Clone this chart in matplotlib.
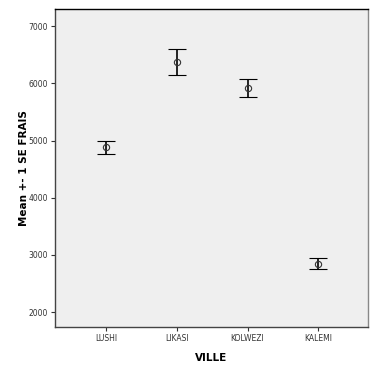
import numpy as np
import matplotlib.pyplot as plt

villes = ['LUSHI', 'LIKASI', 'KOLWEZI', 'KALEMI']
moyennes = [4880, 6370, 5915, 2845]
erreurs = [117, 230, 160, 97]

fig = plt.figure(figsize=(3.76, 3.76), dpi=100)
ax = fig.add_axes([55 / 376, 1 - 327 / 376, 313 / 376, 318 / 376])
ax.set_facecolor('#efefef')

x = np.arange(len(villes))
ax.errorbar(x, moyennes, yerr=erreurs, fmt='o', mfc='none', mec='#333333',
            ms=4.5, mew=0.8, ecolor='black', elinewidth=1.2, capsize=6.5,
            capthick=1.2)

ax.set_xlim(-0.72, 3.70)
ax.set_ylim(1740, 7300)
ax.set_xticks(x)
ax.set_xticklabels(villes)
ax.set_yticks([2000, 3000, 4000, 5000, 6000, 7000])
ax.tick_params(labelsize=5.5, length=3, width=0.8, colors='#333333', pad=2)

ax.spines['top'].set_color('black')
ax.spines['left'].set_color('#444444')
ax.spines['bottom'].set_color('#444444')
ax.spines['right'].set_color('#888888')
for s in ax.spines.values():
    s.set_linewidth(1.0)

ax.set_xlabel('VILLE', fontsize=7.5, fontweight='bold', labelpad=7)
ax.set_ylabel('Mean +- 1 SE FRAIS', fontsize=7.5, fontweight='bold', labelpad=0)

fig.savefig('out.png', dpi=100)
